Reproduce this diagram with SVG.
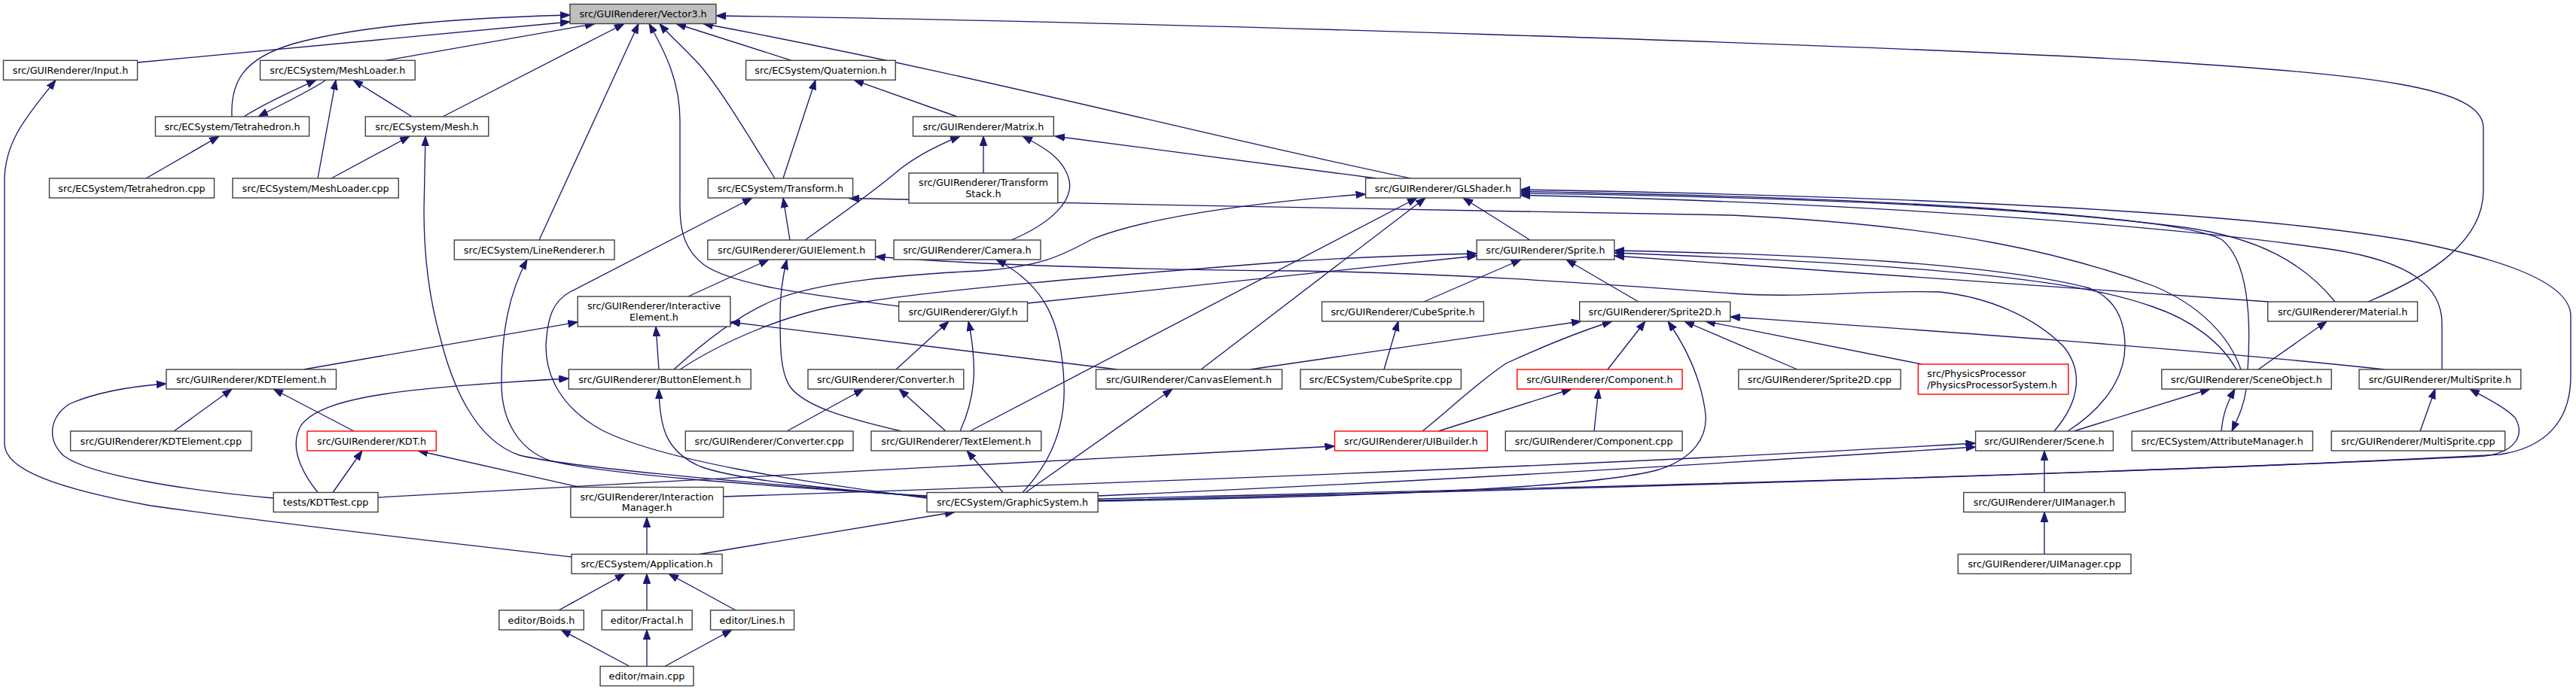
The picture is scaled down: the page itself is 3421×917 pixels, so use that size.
<svg xmlns="http://www.w3.org/2000/svg" width="3421" height="917" viewBox="0 0 3421 917">
<defs>
<marker id="ah" markerWidth="14" markerHeight="11" refX="13" refY="5" orient="auto" markerUnits="userSpaceOnUse"><path d="M0,0.3 L13,5 L0,9.7 z" fill="#191970" stroke="#191970" stroke-width="1"/></marker>
</defs>
<style>
.n rect{fill:#ffffff;stroke:#404040;stroke-width:1.4}
.n.root rect{fill:#bfbfbf}
.n.red rect{stroke:#ff0000}
.n text{font-family:"DejaVu Sans","Liberation Sans",sans-serif;font-size:12.75px;text-anchor:middle;fill:#000}
.n text.l{text-anchor:start}
#edges path{fill:none;stroke:#191970;stroke-width:1.33;marker-end:url(#ah)}
</style>
<rect width="3421" height="917" fill="#ffffff"/>
<g id="edges">
<path d="M308,155 C306,110 322,78 390,58 C470,36 600,24 757,20"/>
<path d="M183,83 C400,62 600,45 757,29"/>
<path d="M512,80.3 L790,31.5"/>
<path d="M588,155 L829,31.5"/>
<path d="M716,319 L848,31.5"/>
<path d="M1193.6,407 C1080,392 975,380 935,352 C900,325 903,290 903,250 L903,160 C903,110 885,72 862,31.5"/>
<path d="M1029,237 C1000,190 955,115 928,85 C905,60 890,48 876,31.5"/>
<path d="M1051,80.3 L898,31.5"/>
<path d="M1873,237 C1600,180 1300,100 934,31.5"/>
<path d="M3145,401 C3230,365 3298,320 3298,253 L3298,170 C3298,115 3150,100 2860,81 C2500,60 1500,28 951,21"/>
<path d="M759,740 C600,722 400,700 200,672 C80,650 6,625 6,590 L6,240 C6,185 40,150 74,106.3"/>
<path d="M324,155 C350,138 385,122 420,106.3"/>
<path d="M433,106.3 C410,122 375,138 343,155"/>
<path d="M422,237 L446,106.3"/>
<path d="M547,155 L469,106.3"/>
<path d="M194,237 L291,181"/>
<path d="M440,237 L544,181"/>
<path d="M1231,660 C1000,642 760,622 690,605 C630,585 600,510 585,450 C568,390 563,330 563,280 L565,181"/>
<path d="M1040,237 L1083,106.3"/>
<path d="M1271,155 L1134,106.3"/>
<path d="M1069,319 C1110,290 1160,255 1195,225 C1220,205 1248,192 1275,181"/>
<path d="M1306,230 L1306,181"/>
<path d="M1343,319 C1400,295 1425,265 1420,240 C1413,210 1385,195 1358,181"/>
<path d="M1828,237 L1401,181"/>
<path d="M1231,662 C1060,640 880,612 800,572 C745,542 725,500 725,460 C727,420 735,400 757,388 L999,263"/>
<path d="M1049,319 L1040,263"/>
<path d="M2976,491 C2960,445 2920,405 2860,380 C2750,340 2600,300 2300,286 C2000,278 1500,274 1128,263.5"/>
<path d="M895,491 C920,468 975,420 1030,398 C1090,374 1200,365 1300,360 C1380,355 1410,340 1450,318 C1530,285 1700,266 1813.6,258"/>
<path d="M1288,573 L1882,263"/>
<path d="M1595,491 L1893,263"/>
<path d="M2032,319 L1943,263"/>
<path d="M1458,663 C2000,650 2800,632 3320,604 C3380,595 3414,560 3414,500 L3414,420 C3414,370 3300,340 3200,320 C3000,285 2600,262 2019.2,252"/>
<path d="M2985,491 C2990,420 2985,345 2950,318 C2900,292 2600,264 2019.2,254.5"/>
<path d="M3101,401 C3060,350 3000,316 2900,302 C2700,276 2400,262 2019.2,257"/>
<path d="M3243,491 L3243,430 C3243,380 3200,348 3100,332 C2900,302 2500,270 2019.2,259.5"/>
<path d="M1231,659 C1000,645 800,630 730,612 C690,598 666,560 666,510 C666,440 676,390 700,345"/>
<path d="M914,394 L1021,345"/>
<path d="M1197,573 C1120,555 1070,540 1050,515 C1036,495 1036,460 1036,420 C1036,390 1040,365 1045,345"/>
<path d="M2728,573 C2765,530 2765,490 2740,460 C2700,420 2640,395 2576,388 C2480,385 2400,397 2300,390 C2100,375 1900,362 1720,360 C1500,358 1300,352 1162.6,341"/>
<path d="M1358,654.5 C1400,610 1415,560 1413,510 C1410,430 1390,380 1323,345"/>
<path d="M903,491 C950,460 1050,410 1150,401 C1250,385 1450,368 1720,347 C1800,342 1880,339 1961.2,337"/>
<path d="M1364.5,403 L1961.2,340"/>
<path d="M1891,401 L2020,345"/>
<path d="M2176,401 L2080,345"/>
<path d="M3012,401 L2143.9,340"/>
<path d="M2970,491 C2950,455 2910,425 2860,408 C2780,380 2650,355 2143.9,336"/>
<path d="M2746,573 C2790,545 2822,505 2822,460 C2822,420 2805,395 2775,383 C2650,350 2400,338 2143.9,333"/>
<path d="M2754,573 L2935,517"/>
<path d="M2950,573 C2952,550 2958,535 2968,517"/>
<path d="M2983,517 C2980,540 2972,555 2964,573"/>
<path d="M2999,491 L3090,427"/>
<path d="M2715,654.5 L2715,599"/>
<path d="M2715,736.5 L2715,680.5"/>
<path d="M960.6,660 C1400,645 2100,620 2623.6,589"/>
<path d="M1458,659 C1900,640 2300,615 2623.6,594"/>
<path d="M502,661 C900,640 1400,610 1772.5,593"/>
<path d="M1889,573 C1930,540 1960,510 2000,483 C2050,460 2100,440 2141,427"/>
<path d="M2135,491 L2185,427"/>
<path d="M1458,666 C1800,660 2100,650 2200,625 C2250,610 2268,580 2265,550 C2260,510 2245,470 2215,427"/>
<path d="M2387,491 L2237,427"/>
<path d="M2552,484 L2265,427"/>
<path d="M3167,491 C2900,462 2500,435 2297.8,421"/>
<path d="M1660,491 L2100,427"/>
<path d="M1838,491 L1857,427"/>
<path d="M1910,573 L2087,517"/>
<path d="M2117,573 L2123,517"/>
<path d="M1484,491 L969.9,428"/>
<path d="M403,491 L767.2,428"/>
<path d="M875,491 L871,434"/>
<path d="M422,654.5 C395,620 385,590 400,565 C430,525 550,515 755.3,503"/>
<path d="M363.2,662 C250,652 120,632 85,606 C62,585 65,555 92,537 C130,520 180,513 220.8,510"/>
<path d="M231,573 L308,517"/>
<path d="M470,573 L363,517"/>
<path d="M442,654.5 L481,599"/>
<path d="M770,647.5 L555,599"/>
<path d="M859,736.5 L859,687.5"/>
<path d="M929,736.5 L1268,680.5"/>
<path d="M1231,660 C1100,650 980,638 930,620 C885,600 876,570 875,517"/>
<path d="M742,811 L830,762.5"/>
<path d="M859,811 L859,762.5"/>
<path d="M977,811 L888,762.5"/>
<path d="M836,885.5 L745,837"/>
<path d="M859,885.5 L859,837"/>
<path d="M883,885.5 L972,837"/>
<path d="M1045,573 L1147,517"/>
<path d="M1256,573 L1194,517"/>
<path d="M1275,573 C1290,540 1295,510 1293,480 C1292,460 1290,445 1286,427"/>
<path d="M1190,491 L1260,427"/>
<path d="M1332,654.5 L1284,599"/>
<path d="M1362,654.5 L1557,517"/>
<path d="M3214,573 L3234,517"/>
<path d="M1458,665 C2000,652 2800,630 3300,606 C3345,600 3352,575 3340,555 C3325,540 3300,528 3280,517"/>
</g>
<g id="n_vector3" class="n root"><rect x="757" y="5.5" width="194" height="26"/><text x="854" y="23">src/GUIRenderer/Vector3.h</text></g>
<g id="n_input" class="n"><rect x="4.5" y="80.3" width="178" height="26"/><text x="93.5" y="97.8">src/GUIRenderer/Input.h</text></g>
<g id="n_meshloader_h" class="n"><rect x="345.5" y="80.3" width="205.7" height="26"/><text x="448.3" y="97.8">src/ECSystem/MeshLoader.h</text></g>
<g id="n_quaternion" class="n"><rect x="990.6" y="80.3" width="198.6" height="26"/><text x="1089.9" y="97.8">src/ECSystem/Quaternion.h</text></g>
<g id="n_tetra_h" class="n"><rect x="206.4" y="155" width="204.2" height="26"/><text x="308.5" y="172.5">src/ECSystem/Tetrahedron.h</text></g>
<g id="n_mesh_h" class="n"><rect x="485.3" y="155" width="163.5" height="26"/><text x="567" y="172.5">src/ECSystem/Mesh.h</text></g>
<g id="n_matrix" class="n"><rect x="1212.5" y="155" width="186.8" height="26"/><text x="1305.9" y="172.5">src/GUIRenderer/Matrix.h</text></g>
<g id="n_tetra_cpp" class="n"><rect x="65.5" y="237" width="219" height="26"/><text x="175" y="254.5">src/ECSystem/Tetrahedron.cpp</text></g>
<g id="n_meshloader_cpp" class="n"><rect x="308.9" y="237" width="220.4" height="26"/><text x="419.1" y="254.5">src/ECSystem/MeshLoader.cpp</text></g>
<g id="n_transform" class="n"><rect x="940.3" y="237" width="192.3" height="26"/><text x="1036.4" y="254.5">src/ECSystem/Transform.h</text></g>
<g id="n_transformstack" class="n"><rect x="1207" y="230" width="197.8" height="40"/><text x="1305.9" y="247">src/GUIRenderer/Transform</text><text x="1305.9" y="261.7">Stack.h</text></g>
<g id="n_glshader" class="n"><rect x="1813.6" y="237" width="205.6" height="26"/><text x="1916.4" y="254.5">src/GUIRenderer/GLShader.h</text></g>
<g id="n_linerenderer" class="n"><rect x="603.3" y="319" width="212.7" height="26"/><text x="709.6" y="336.5">src/ECSystem/LineRenderer.h</text></g>
<g id="n_guielement" class="n"><rect x="939.9" y="319" width="222.7" height="26"/><text x="1051.2" y="336.5">src/GUIRenderer/GUIElement.h</text></g>
<g id="n_camera" class="n"><rect x="1187" y="319" width="194.9" height="26"/><text x="1284.4" y="336.5">src/GUIRenderer/Camera.h</text></g>
<g id="n_sprite" class="n"><rect x="1961.2" y="319" width="182.7" height="26"/><text x="2052.5" y="336.5">src/GUIRenderer/Sprite.h</text></g>
<g id="n_interactive" class="n"><rect x="767.2" y="394" width="202.7" height="40"/><text x="868.5" y="411">src/GUIRenderer/Interactive</text><text x="868.5" y="425.7">Element.h</text></g>
<g id="n_glyf" class="n"><rect x="1193.6" y="401" width="170.9" height="26"/><text x="1279" y="418.5">src/GUIRenderer/Glyf.h</text></g>
<g id="n_cubesprite_h" class="n"><rect x="1755.5" y="401" width="214.9" height="26"/><text x="1863" y="418.5">src/GUIRenderer/CubeSprite.h</text></g>
<g id="n_sprite2d_h" class="n"><rect x="2097.7" y="401" width="200.1" height="26"/><text x="2197.7" y="418.5">src/GUIRenderer/Sprite2D.h</text></g>
<g id="n_material" class="n"><rect x="3011.7" y="401" width="198.8" height="26"/><text x="3111.1" y="418.5">src/GUIRenderer/Material.h</text></g>
<g id="n_kdtelement_h" class="n"><rect x="220.8" y="491" width="225.7" height="26"/><text x="333.6" y="508.5">src/GUIRenderer/KDTElement.h</text></g>
<g id="n_button" class="n"><rect x="755.3" y="491" width="241.9" height="26"/><text x="876.2" y="508.5">src/GUIRenderer/ButtonElement.h</text></g>
<g id="n_converter_h" class="n"><rect x="1073" y="491" width="206.8" height="26"/><text x="1176.4" y="508.5">src/GUIRenderer/Converter.h</text></g>
<g id="n_canvas" class="n"><rect x="1455.5" y="491" width="247.1" height="26"/><text x="1579" y="508.5">src/GUIRenderer/CanvasElement.h</text></g>
<g id="n_cubesprite_cpp" class="n"><rect x="1727" y="491" width="213.4" height="26"/><text x="1833.7" y="508.5">src/ECSystem/CubeSprite.cpp</text></g>
<g id="n_component_h" class="n red"><rect x="2014.8" y="491" width="219.3" height="26"/><text x="2124.4" y="508.5">src/GUIRenderer/Component.h</text></g>
<g id="n_sprite2d_cpp" class="n"><rect x="2308.9" y="491" width="215.2" height="26"/><text x="2416.5" y="508.5">src/GUIRenderer/Sprite2D.cpp</text></g>
<g id="n_physics" class="n red"><rect x="2547.4" y="484" width="199.4" height="40"/><text class="l" x="2559.3" y="501">src/PhysicsProcessor</text><text class="l" x="2559.3" y="515.7">/PhysicsProcessorSystem.h</text></g>
<g id="n_sceneobject" class="n"><rect x="2870.8" y="491" width="225.4" height="26"/><text x="2983.5" y="508.5">src/GUIRenderer/SceneObject.h</text></g>
<g id="n_multisprite_h" class="n"><rect x="3133" y="491" width="214.8" height="26"/><text x="3240.4" y="508.5">src/GUIRenderer/MultiSprite.h</text></g>
<g id="n_kdtelement_cpp" class="n"><rect x="93.6" y="573" width="240.4" height="26"/><text x="213.8" y="590.5">src/GUIRenderer/KDTElement.cpp</text></g>
<g id="n_kdt" class="n red"><rect x="408" y="573" width="171.3" height="26"/><text x="493.6" y="590.5">src/GUIRenderer/KDT.h</text></g>
<g id="n_converter_cpp" class="n"><rect x="910.3" y="573" width="222.7" height="26"/><text x="1021.6" y="590.5">src/GUIRenderer/Converter.cpp</text></g>
<g id="n_textelement" class="n"><rect x="1157" y="573" width="225.7" height="26"/><text x="1269.8" y="590.5">src/GUIRenderer/TextElement.h</text></g>
<g id="n_uibuilder" class="n red"><rect x="1772.5" y="573" width="202.7" height="26"/><text x="1873.8" y="590.5">src/GUIRenderer/UIBuilder.h</text></g>
<g id="n_component_cpp" class="n"><rect x="1999.3" y="573" width="234.8" height="26"/><text x="2116.7" y="590.5">src/GUIRenderer/Component.cpp</text></g>
<g id="n_scene" class="n"><rect x="2623.6" y="573" width="182.8" height="26"/><text x="2715" y="590.5">src/GUIRenderer/Scene.h</text></g>
<g id="n_attribute" class="n"><rect x="2831.2" y="573" width="240.2" height="26"/><text x="2951.3" y="590.5">src/ECSystem/AttributeManager.h</text></g>
<g id="n_multisprite_cpp" class="n"><rect x="3096.2" y="573" width="230.5" height="26"/><text x="3211.4" y="590.5">src/GUIRenderer/MultiSprite.cpp</text></g>
<g id="n_kdttest" class="n"><rect x="363.2" y="654.5" width="138.8" height="26"/><text x="432.6" y="672">tests/KDTTest.cpp</text></g>
<g id="n_interaction" class="n"><rect x="757.9" y="647.5" width="202.7" height="40"/><text x="859.2" y="664.5">src/GUIRenderer/Interaction</text><text x="859.2" y="679.2">Manager.h</text></g>
<g id="n_graphicsystem" class="n"><rect x="1231" y="654.5" width="227.1" height="26"/><text x="1344.5" y="672">src/ECSystem/GraphicSystem.h</text></g>
<g id="n_uimanager_h" class="n"><rect x="2607.7" y="654.5" width="214.6" height="26"/><text x="2715" y="672">src/GUIRenderer/UIManager.h</text></g>
<g id="n_application" class="n"><rect x="759" y="736.5" width="200.1" height="26"/><text x="859" y="754">src/ECSystem/Application.h</text></g>
<g id="n_uimanager_cpp" class="n"><rect x="2600.3" y="736.5" width="229.7" height="26"/><text x="2715.1" y="754">src/GUIRenderer/UIManager.cpp</text></g>
<g id="n_boids" class="n"><rect x="662.8" y="811" width="112.5" height="26"/><text x="719" y="828.5">editor/Boids.h</text></g>
<g id="n_fractal" class="n"><rect x="799.3" y="811" width="119.9" height="26"/><text x="859.2" y="828.5">editor/Fractal.h</text></g>
<g id="n_lines" class="n"><rect x="943.6" y="811" width="111" height="26"/><text x="999.1" y="828.5">editor/Lines.h</text></g>
<g id="n_main" class="n"><rect x="797.1" y="885.5" width="123.9" height="26"/><text x="859" y="903">editor/main.cpp</text></g>
</svg>
